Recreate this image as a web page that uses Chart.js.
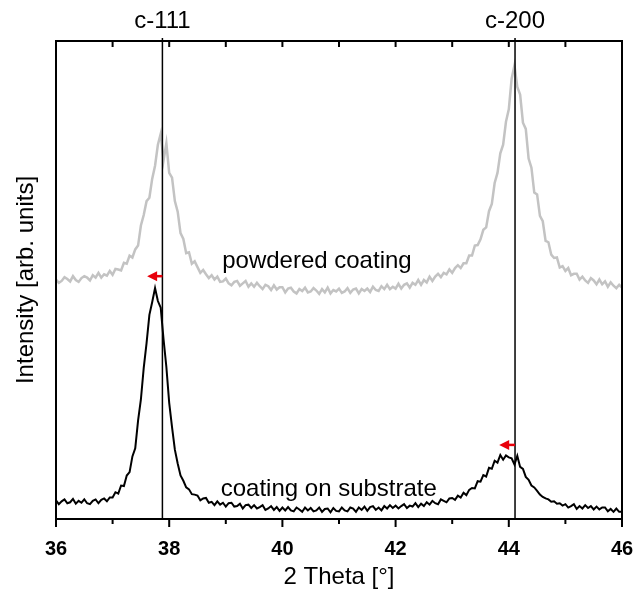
<!DOCTYPE html>
<html>
<head>
<meta charset="utf-8">
<script src="https://cdn.jsdelivr.net/npm/chart.js@4"></script>
<style>
  body { margin: 0; background: #fff; }
</style>
</head>
<body>
<canvas id="xrd" width="634" height="594"></canvas>
<script>
// 2 theta grid of the scan
const twoThetaStart = 36;
const twoThetaStep = 0.05;

// powdered coating (grey, offset upwards)
const powdered = [
  50.1, 49.4, 49.8, 50.6, 50.2, 49.7, 50.8, 50.0, 49.6, 50.4,
  50.8, 50.5, 49.9, 51.0, 50.5, 51.5, 50.5, 51.2, 50.9, 51.9,
  51.1, 52.3, 52.2, 52.0, 53.6, 53.4, 55.1, 54.7, 56.4, 57.2,
  61.4, 63.6, 66.5, 67.2, 71.2, 73.9, 78.3, 80.6, 75.0, 78.6,
  72.4, 71.4, 66.5, 64.3, 59.8, 58.6, 55.6, 55.8, 53.4, 53.9,
  52.7, 51.5, 52.1, 51.2, 50.4, 51.0, 50.1, 50.7, 49.6, 49.7,
  50.3, 49.3, 48.9, 49.6, 49.8, 48.8, 49.3, 49.8, 48.6, 49.3,
  48.6, 49.4, 48.7, 48.1, 49.0, 48.7, 47.9, 48.9, 48.0, 48.5,
  48.5, 47.4, 48.2, 48.4, 47.6, 47.2, 48.1, 47.7, 48.4, 47.4,
  47.6, 48.3, 47.8, 47.1, 48.1, 47.4, 48.4, 47.2, 47.9, 47.6,
  48.2, 47.3, 47.6, 48.3, 47.3, 48.0, 48.2, 47.2, 48.1, 47.7,
  48.2, 47.5, 48.6, 47.9, 47.7, 48.7, 48.1, 49.0, 48.1, 48.6,
  48.2, 49.2, 48.2, 49.0, 49.3, 48.4, 49.4, 49.0, 50.0, 49.0,
  50.0, 49.5, 50.7, 49.8, 50.7, 51.3, 50.6, 51.5, 51.2, 52.2,
  51.5, 52.5, 53.1, 52.5, 53.5, 53.5, 55.1, 55.1, 57.2, 57.3,
  58.5, 60.5, 61.0, 64.4, 65.9, 70.3, 72.4, 76.5, 78.3, 83.1,
  85.7, 92.1, 94.9, 90.4, 88.8, 82.9, 81.6, 75.4, 73.5, 68.3,
  67.9, 63.4, 62.3, 58.2, 57.9, 55.3, 54.6, 54.7, 52.6, 52.9,
  51.9, 52.5, 51.0, 51.3, 51.3, 50.1, 50.7, 49.9, 49.4, 50.4,
  49.9, 49.1, 50.1, 49.1, 49.7, 48.6, 49.5, 48.8, 48.3, 49.0,
  48.4
];

// coating on substrate (black)
const onSubstrate = [
  3.9, 3.1, 3.7, 4.1, 3.3, 3.5, 4.2, 3.2, 3.8, 3.4,
  4.1, 3.3, 3.1, 3.8, 4.1, 3.3, 4.0, 4.3, 3.7, 4.5,
  4.5, 5.6, 5.3, 7.0, 6.9, 9.1, 9.8, 13.1, 14.8, 20.6,
  25.0, 31.6, 36.8, 42.7, 45.4, 48.3, 45.6, 44.2, 37.6, 31.8,
  24.3, 19.2, 14.5, 11.6, 9.1, 8.0, 6.6, 6.2, 5.2, 5.1,
  4.9, 3.9, 4.3, 4.4, 3.4, 3.6, 2.9, 3.7, 3.0, 3.4,
  2.6, 3.3, 3.4, 2.6, 2.7, 3.2, 2.2, 2.9, 3.0, 2.3,
  2.9, 2.2, 2.5, 2.9, 1.9, 2.2, 2.7, 1.9, 2.5, 1.7,
  2.4, 1.8, 2.5, 1.8, 1.6, 2.4, 2.0, 1.5, 2.4, 1.8,
  2.3, 1.6, 1.8, 2.4, 1.5, 2.1, 2.2, 1.4, 2.3, 1.7,
  1.6, 2.4, 1.8, 1.6, 2.4, 2.2, 1.5, 2.4, 1.9, 2.6,
  1.7, 2.5, 2.7, 1.9, 2.4, 1.8, 2.7, 2.2, 2.9, 2.3,
  2.8, 2.2, 2.7, 3.1, 2.3, 2.8, 2.6, 3.3, 2.5, 3.2,
  2.7, 3.5, 3.0, 3.8, 3.3, 3.1, 4.1, 3.8, 3.5, 4.3,
  4.4, 4.0, 4.9, 4.5, 5.5, 5.0, 6.1, 6.5, 6.4, 7.9,
  7.8, 9.2, 8.9, 10.7, 10.5, 12.2, 11.8, 13.4, 12.4, 13.3,
  12.9, 12.7, 11.4, 13.2, 10.9, 10.5, 8.8, 8.2, 7.0, 6.6,
  5.9, 5.1, 4.6, 4.3, 4.1, 3.6, 3.7, 3.2, 3.3, 2.8,
  3.1, 2.4, 2.7, 3.1, 2.1, 2.7, 2.2, 2.9, 2.3, 2.7,
  2.0, 2.6, 2.0, 2.4, 2.4, 1.6, 2.1, 1.5, 2.2, 1.5,
  1.5
];

// reference reflections
const refNames = ['c-111', 'c-200'];
const refPositions = [37.88, 44.11];

// shift arrows (from reference line to measured peak)
const arrowFrom = [37.88, 44.11];
const arrowTo = [37.61, 43.83];
const arrowLevel = [50.8, 15.5];

// curve captions
const captionText = ['powdered coating', 'coating on substrate'];
const captionX = [40.61, 40.82];
const captionY = [53.8, 6.1];

const font = '"Liberation Sans", Arial, sans-serif';
const twoTheta = powdered.map((_, i) => +(twoThetaStart + i * twoThetaStep).toFixed(2));

// frame, ticks, reference lines, arrows and captions
const overlay = {
  id: 'overlay',
  afterDatasetsDraw(chart) {
    const { ctx, chartArea: a, scales: { x, y } } = chart;
    ctx.save();

    ctx.strokeStyle = '#000';
    ctx.lineWidth = 1.5;
    refPositions.forEach(v => {
      const px = x.getPixelForValue(v);
      ctx.beginPath();
      ctx.moveTo(px, a.top - 3);
      ctx.lineTo(px, a.bottom);
      ctx.stroke();
    });

    ctx.fillStyle = '#000';
    ctx.textAlign = 'center';
    ctx.textBaseline = 'middle';
    ctx.font = '24px ' + font;
    refNames.forEach((t, i) => ctx.fillText(t, x.getPixelForValue(refPositions[i]), a.top - 20));
    captionText.forEach((t, i) => ctx.fillText(t, x.getPixelForValue(captionX[i]), y.getPixelForValue(captionY[i])));

    // red arrows
    ctx.strokeStyle = '#e8000b';
    ctx.fillStyle = '#e8000b';
    ctx.lineWidth = 2.5;
    arrowFrom.forEach((v, i) => {
      const x0 = x.getPixelForValue(v);
      const x1 = x.getPixelForValue(arrowTo[i]);
      const py = y.getPixelForValue(arrowLevel[i]);
      ctx.beginPath();
      ctx.moveTo(x0, py);
      ctx.lineTo(x1 + 6, py);
      ctx.stroke();
      ctx.beginPath();
      ctx.moveTo(x1, py);
      ctx.lineTo(x1 + 10, py - 5);
      ctx.lineTo(x1 + 10, py + 5);
      ctx.closePath();
      ctx.fill();
    });

    // frame
    ctx.strokeStyle = '#000';
    ctx.lineWidth = 2;
    ctx.strokeRect(a.left, a.top, a.right - a.left, a.bottom - a.top);

    // ticks: outward at the bottom, inward at the top
    for (let v = 36; v <= 46; v++) {
      const px = x.getPixelForValue(v);
      ctx.beginPath();
      ctx.moveTo(px, a.bottom);
      ctx.lineTo(px, a.bottom + (v % 2 === 0 ? 8 : 5));
      ctx.moveTo(px, a.top);
      ctx.lineTo(px, a.top + 6);
      ctx.stroke();
    }
    ctx.restore();
  }
};

new Chart(document.getElementById('xrd'), {
  type: 'line',
  data: {
    datasets: [{
      label: 'powdered coating',
      data: twoTheta.map((t, i) => ({ x: t, y: powdered[i] })),
      borderColor: '#c3c3c3',
      borderWidth: 2.5,
      pointRadius: 0,
      tension: 0
    }, {
      label: 'coating on substrate',
      data: twoTheta.map((t, i) => ({ x: t, y: onSubstrate[i] })),
      borderColor: '#000',
      borderWidth: 2,
      pointRadius: 0,
      tension: 0
    }]
  },
  options: {
    responsive: false,
    animation: false,
    layout: { padding: { top: 41, right: 12, left: 0, bottom: 0 } },
    plugins: {
      legend: { display: false },
      tooltip: { enabled: false }
    },
    scales: {
      x: {
        type: 'linear',
        min: 36,
        max: 46,
        afterFit(scale) {
          scale.height = 75;
          scale.paddingLeft = 0;
          scale.paddingRight = 0;
        },
        grid: { display: false, drawTicks: false },
        border: { display: false },
        ticks: {
          stepSize: 1,
          autoSkip: false,
          maxRotation: 0,
          padding: 18,
          color: '#000',
          font: { family: font, size: 20, weight: 'bold' },
          callback: v => (v % 2 === 0 ? v : '')
        },
        title: {
          display: true,
          text: '2 Theta [°]',
          color: '#000',
          font: { family: font, size: 24 },
          padding: { top: 0, bottom: 2 }
        }
      },
      y: {
        min: 0,
        max: 100,
        afterFit(scale) { scale.width = 56; },
        grid: { display: false, drawTicks: false },
        border: { display: false },
        ticks: { display: false },
        title: {
          display: true,
          text: 'Intensity [arb. units]',
          color: '#000',
          font: { family: font, size: 24 },
          padding: { top: 12, bottom: 0 }
        }
      }
    }
  },
  plugins: [overlay]
});
</script>
</body>
</html>
